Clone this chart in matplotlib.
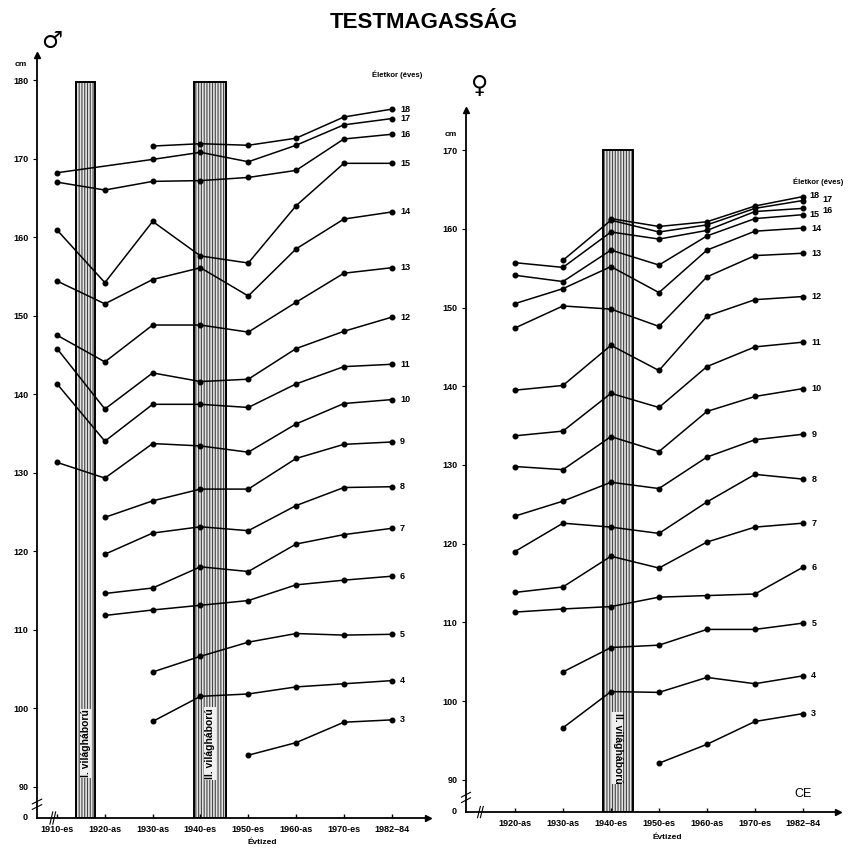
import numpy as np
import matplotlib
matplotlib.use("Agg")
import matplotlib.pyplot as plt

plt.rcParams["font.family"] = ["Liberation Sans", "DejaVu Sans"]
plt.rcParams["hatch.linewidth"] = 0.8

nan = np.nan

# --- fiuk (boys) ---
boy_years = [1910, 1920, 1930, 1940, 1950, 1960, 1970, 1980]
boy_year_labels = ["1910-es", "1920-as", "1930-as", "1940-es", "1950-es",
                   "1960-as", "1970-es", "1982–84"]
boy_ages = [18, 17, 16, 15, 14, 13, 12, 11, 10, 9, 8, 7, 6, 5, 4, 3]
boy_18 = [nan, nan, 171.6, 171.9, 171.7, 172.6, 175.3, 176.3]
boy_17 = [168.2, nan, 169.9, 170.8, 169.6, 171.7, 174.3, 175.1]
boy_16 = [167.0, 166.0, 167.1, 167.2, 167.6, 168.5, 172.5, 173.1]
boy_15 = [160.9, 154.2, 162.0, 157.6, 156.7, 164.0, 169.4, 169.4]
boy_14 = [154.4, 151.5, 154.6, 156.1, 152.5, 158.5, 162.3, 163.2]
boy_13 = [147.5, 144.1, 148.8, 148.8, 147.9, 151.7, 155.4, 156.1]
boy_12 = [145.8, 138.1, 142.7, 141.6, 141.9, 145.8, 148.0, 149.8]
boy_11 = [141.3, 134.0, 138.7, 138.7, 138.3, 141.3, 143.5, 143.8]
boy_10 = [131.3, 129.3, 133.7, 133.4, 132.6, 136.2, 138.8, 139.3]
boy_9 = [nan, 124.3, 126.4, 127.9, 127.9, 131.8, 133.6, 133.9]
boy_8 = [nan, 119.6, 122.3, 123.1, 122.6, 125.8, 128.1, 128.2]
boy_7 = [nan, 114.6, 115.3, 118.0, 117.4, 120.9, 122.1, 122.9]
boy_6 = [nan, 111.8, 112.5, 113.1, 113.7, 115.7, 116.3, 116.8]
boy_5 = [nan, nan, 104.6, 106.6, 108.4, 109.5, 109.3, 109.4]
boy_4 = [nan, nan, 98.3, 101.5, 101.8, 102.7, 103.1, 103.5]
boy_3 = [nan, nan, nan, nan, 94.0, 95.6, 98.2, 98.5]
boy_series = [boy_18, boy_17, boy_16, boy_15, boy_14, boy_13, boy_12, boy_11,
              boy_10, boy_9, boy_8, boy_7, boy_6, boy_5, boy_4, boy_3]
boy_wars = [(1914, 1918, "I. világháború"), (1938.7, 1945.3, "II. világháború")]

# --- lanyok (girls) ---
girl_years = [1920, 1930, 1940, 1950, 1960, 1970, 1980]
girl_year_labels = ["1920-as", "1930-as", "1940-es", "1950-es", "1960-as",
                    "1970-es", "1982–84"]
girl_ages = [18, 17, 16, 15, 14, 13, 12, 11, 10, 9, 8, 7, 6, 5, 4, 3]
girl_18 = [nan, nan, 161.3, 160.3, 160.9, 162.9, 164.1]
girl_17 = [nan, 156.0, 161.1, 159.6, 160.5, 162.6, 163.6]
girl_16 = [155.7, 155.1, 159.6, 158.7, 159.8, 162.2, 162.6]
girl_15 = [154.1, 153.3, 157.3, 155.4, 159.1, 161.3, 161.8]
girl_14 = [150.5, 152.4, 155.2, 151.9, 157.3, 159.7, 160.1]
girl_13 = [147.4, 150.2, 149.8, 147.6, 153.9, 156.6, 156.9]
girl_12 = [139.5, 140.1, 145.2, 142.0, 148.9, 151.0, 151.4]
girl_11 = [133.7, 134.3, 139.1, 137.3, 142.5, 145.0, 145.6]
girl_10 = [129.8, 129.4, 133.6, 131.7, 136.8, 138.7, 139.7]
girl_9 = [123.5, 125.4, 127.8, 127.0, 131.0, 133.2, 133.9]
girl_8 = [119.0, 122.6, 122.1, 121.3, 125.3, 128.8, 128.2]
girl_7 = [113.8, 114.5, 118.4, 116.9, 120.2, 122.1, 122.6]
girl_6 = [111.3, 111.7, 112.0, 113.2, 113.4, 113.6, 117.0]
girl_5 = [nan, 103.7, 106.8, 107.1, 109.1, 109.1, 109.9]
girl_4 = [nan, 96.6, 101.2, 101.1, 103.0, 102.2, 103.2]
girl_3 = [nan, nan, nan, 92.1, 94.5, 97.4, 98.4]
girl_series = [girl_18, girl_17, girl_16, girl_15, girl_14, girl_13, girl_12,
               girl_11, girl_10, girl_9, girl_8, girl_7, girl_6, girl_5,
               girl_4, girl_3]
girl_wars = [(1938.3, 1944.5, "II. világháború")]


def setup_axes(ax, years, year_labels, xlim, ylim, yticks, xbreak):
    ax.set_xlim(*xlim)
    ax.set_ylim(*ylim)
    for s in ("top", "right"):
        ax.spines[s].set_visible(False)
    ax.spines["left"].set_linewidth(1.3)
    ax.spines["bottom"].set_linewidth(1.3)
    ax.set_xticks(years)
    ax.set_xticklabels(year_labels, fontsize=6.5, fontweight="bold")
    ax.tick_params(axis="x", direction="in", length=3, width=1, pad=5)
    ax.set_yticks(yticks)
    ax.set_yticklabels([str(t) for t in yticks], fontsize=6.5, fontweight="bold")
    ax.tick_params(axis="y", direction="out", length=3, width=0.8, pad=3)
    # arrows at the axis ends
    ax.plot([1], [0], ">k", ms=5, transform=ax.transAxes, clip_on=False)
    ax.plot([0], [1], "^k", ms=5, transform=ax.transAxes, clip_on=False)
    # "0" and axis breaks
    ax.text(-0.025, 0, "0", transform=ax.transAxes, ha="right", va="center",
            fontsize=6.5, fontweight="bold")
    ytr = ax.get_yaxis_transform()
    for y0 in (87.4, 88.1):
        ax.plot([-0.012, 0.012], [y0 - 0.3, y0 + 0.3], color="k", lw=0.8,
                transform=ytr, clip_on=False)
    xtr = ax.get_xaxis_transform()
    for x0 in (xbreak, xbreak + 0.6):
        ax.plot([x0 - 0.3, x0 + 0.3], [-0.008, 0.008], color="k", lw=0.8,
                transform=xtr, clip_on=False)
    ax.text(-0.058, yticks[-1] + 1.5, "cm", fontsize=6, fontweight="bold",
            transform=ytr, ha="left", va="bottom")


def draw_wars(ax, wars, top, rotation, text_y):
    bottom = ax.get_ylim()[0]
    for start, end, name in wars:
        ax.bar((start + end) / 2, top - bottom, width=end - start, bottom=bottom,
               facecolor="#e4e4e4", edgecolor="#444444", hatch="||||||",
               linewidth=0, zorder=1)
        ax.bar((start + end) / 2, top - bottom, width=end - start, bottom=bottom,
               facecolor="none", edgecolor="black", linewidth=1.4, zorder=2)
        ax.text((start + end) / 2, text_y, name, rotation=rotation,
                ha="center", va="center", fontsize=7.5, fontweight="bold",
                zorder=3, bbox=dict(facecolor="#f0f0f0", edgecolor="none", pad=0.5))


def draw_series(ax, years, ages, series, offsets):
    xs = np.array(years, dtype=float)
    for age, vals in zip(ages, series):
        v = np.array(vals, dtype=float)
        m = ~np.isnan(v)
        ax.plot(xs[m], v[m], "-o", color="black", lw=1.1, ms=3.3, zorder=4)
        dx, dy = offsets.get(age, (6, 0))
        ax.annotate(str(age), xy=(xs[m][-1], v[m][-1]), xytext=(dx, dy),
                    textcoords="offset points", ha="left", va="center",
                    fontsize=6.5, fontweight="bold")


fig = plt.figure(figsize=(8.5, 8.51), dpi=100)
W, H = 850, 851

# boys panel
ax1 = fig.add_axes([37 / W, 1 - 818 / H, (428 - 37) / W, (818 - 55) / H])
setup_axes(ax1, boy_years, boy_year_labels, (1905.8, 1987.6), (86.0, 183.2),
           list(range(90, 181, 10)), 1908.8)
draw_wars(ax1, boy_wars, 179.8, 90, 95.5)
draw_series(ax1, boy_years, boy_ages, boy_series, {})
ax1.text(1986.5, 180.7, "Életkor (éves)", ha="right", va="center",
         fontsize=5.5, fontweight="bold")
ax1.text(1953, -0.027, "Évtized", transform=ax1.get_xaxis_transform(),
         ha="center", va="top", fontsize=6, fontweight="bold")

# girls panel
ax2 = fig.add_axes([466 / W, 1 - 812 / H, (838 - 466) / W, (812 - 110) / H])
setup_axes(ax2, girl_years, girl_year_labels, (1909.8, 1987.3), (85.9, 175.1),
           list(range(90, 171, 10)), 1912.5)
draw_wars(ax2, girl_wars, 170.0, 270, 94.0)
draw_series(ax2, girl_years, girl_ages, girl_series,
            {18: (5, 1), 17: (14, 0.5), 16: (14, -1.5), 15: (5, 0)})
ax2.text(1988.5, 166.0, "Életkor (éves)", ha="right", va="center",
         fontsize=5.5, fontweight="bold")
ax2.text(1951.7, -0.032, "Évtized", transform=ax2.get_xaxis_transform(),
         ha="center", va="top", fontsize=6, fontweight="bold")
ax2.text(1980, 88.2, "CE", ha="center", va="center", fontsize=9)

fig.text(424 / W, 1 - 22 / H, "TESTMAGASSÁG", ha="center", va="center",
         fontsize=16, fontweight="bold")
fig.text(52 / W, 1 - 41 / H, "♂", ha="center", va="center", fontsize=17,
         family="DejaVu Sans")
fig.text(480 / W, 1 - 86 / H, "♀", ha="center", va="center", fontsize=17,
         family="DejaVu Sans")

fig.savefig("out.png", dpi=100, facecolor="white")
